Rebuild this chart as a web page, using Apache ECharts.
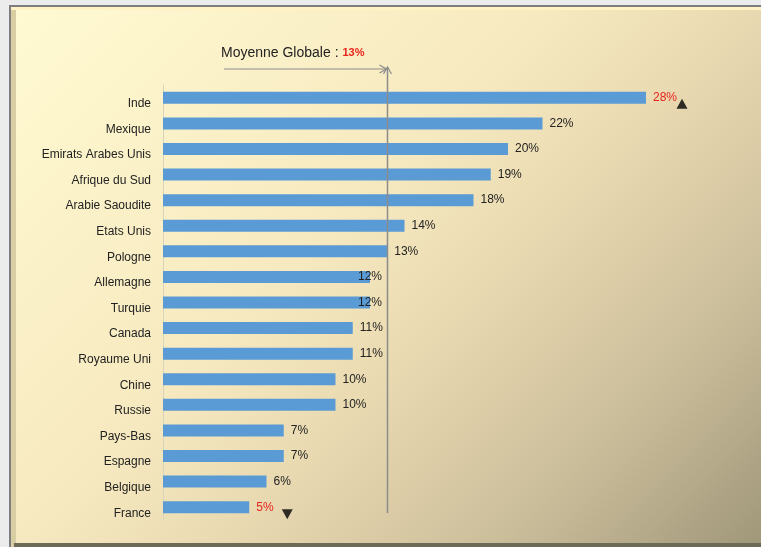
<!DOCTYPE html>
<html><head><meta charset="utf-8">
<script src="https://cdn.jsdelivr.net/npm/echarts@6/dist/echarts.min.js"></script>
<style>html,body{margin:0;padding:0;background:#ececec}#c{width:761px;height:547px}</style>
</head><body><div id="c"></div>
<script>
const categories = ['Inde','Mexique','Emirats Arabes Unis','Afrique du Sud','Arabie Saoudite','Etats Unis','Pologne','Allemagne','Turquie','Canada','Royaume Uni','Chine','Russie','Pays-Bas','Espagne','Belgique','France'];
const values = [28,22,20,19,18,14,13,12,12,11,11,10,10,7,7,6,5];
const meanValue = 13;
const meanText = 'Moyenne Globale : ';
const upMarks = ['Inde'];
const downMarks = ['France'];
const shiftedLabels = ['Allemagne','Turquie'];

const RED = '#e8231c';
const FONT = 'Liberation Sans, Arial, sans-serif';

const barData = categories.map((c, i) => {
  const item = { value: values[i] };
  if (upMarks.includes(c) || downMarks.includes(c)) item.label = { color: RED };
  if (shiftedLabels.includes(c)) item.label = { offset: [-19, 0] };
  return item;
});

const chart = echarts.init(document.getElementById('c'));
chart.setOption({
  animation: false,
  backgroundColor: 'transparent',
  grid: { left: 163, right: 80.5, top: 85, bottom: 27 },
  xAxis: { type: 'value', min: 0, max: 30, show: false },
  yAxis: {
    type: 'category', data: categories, inverse: true,
    axisLine: { show: true, lineStyle: { color: '#d9d2bd', width: 1 } },
    axisTick: { show: false },
    axisLabel: { color: '#222', fontSize: 12, fontFamily: FONT, margin: 12, verticalAlign: 'top', lineHeight: 12 }
  },
  series: [
    {
      type: 'bar', data: barData, barWidth: 12, z: 3,
      itemStyle: { color: '#5b9bd5' },
      label: { show: true, position: 'right', distance: 7, formatter: '{c}%', color: '#222', fontSize: 12, fontFamily: FONT }
    },
    {
      type: 'scatter', z: 4, symbol: 'triangle', symbolSize: [11, 10],
      itemStyle: { color: '#000' },
      data: upMarks.map(c => [values[categories.indexOf(c)], c]),
      symbolOffset: [36, 6]
    },
    {
      type: 'scatter', z: 4, symbol: 'triangle', symbolSize: [11, 10], symbolRotate: 180,
      itemStyle: { color: '#000' },
      data: downMarks.map(c => [values[categories.indexOf(c)], c]),
      symbolOffset: [38, 7]
    }
  ]
});

const mx = Math.round(chart.convertToPixel({ xAxisIndex: 0 }, meanValue)) + 0.5;
const gTop = 85, gBottom = 520;
const lineColor = '#8c8c8c';
chart.setOption({
  graphic: [
    { type: 'rect', z: -10, silent: true, shape: { x: 0, y: 0, width: 761, height: 547 }, style: { fill: '#ececec' } },
    { type: 'rect', z: -9, silent: true, shape: { x: 9, y: 5, width: 760, height: 545 }, style: { fill: '#7e7e7e' } },
    { type: 'rect', z: -8, silent: true, shape: { x: 11, y: 7, width: 760, height: 540 }, style: { fill: '#d9cda3' } },
    { type: 'rect', z: -8, silent: true, shape: { x: 11, y: 7, width: 760, height: 3 }, style: { fill: '#fff3c6' } },
    { type: 'rect', z: -7, silent: true, shape: { x: 16, y: 10, width: 745, height: 533 },
      style: { fill: new echarts.graphic.LinearGradient(16, 10, 655, 649, [
        { offset: 0, color: '#fffad2' },
        { offset: 0.42, color: '#f7e9bf' },
        { offset: 0.57, color: '#e9dab2' },
        { offset: 0.70, color: '#d9caa5' },
        { offset: 0.79, color: '#cbbe9b' },
        { offset: 0.90, color: '#b5aa8a' },
        { offset: 1, color: '#a0987a' }
      ], true) } },
    { type: 'rect', z: -6, silent: true, shape: { x: 14, y: 543, width: 747, height: 4 }, style: { fill: '#6d6a58' } },
    // mean vertical line with arrow
    { type: 'polyline', z: 10, silent: true, shape: { points: [[mx, gTop - 18], [mx, gBottom - 7]] }, style: { stroke: lineColor, lineWidth: 1.5 } },
    { type: 'polyline', z: 10, silent: true, shape: { points: [[mx - 4, gTop - 11], [mx, gTop - 18], [mx + 4, gTop - 11]] }, style: { stroke: lineColor, lineWidth: 1.2, fill: null } },
    // horizontal arrow
    { type: 'polyline', z: 10, silent: true, shape: { points: [[224, gTop - 16], [mx - 1, gTop - 16]] }, style: { stroke: lineColor, lineWidth: 1.2 } },
    { type: 'polyline', z: 10, silent: true, shape: { points: [[mx - 8, gTop - 20], [mx - 1, gTop - 16], [mx - 8, gTop - 12]] }, style: { stroke: lineColor, lineWidth: 1.2, fill: null } },
    { type: 'text', z: 10, silent: true, x: 221, y: 53,
      style: { text: '{a|' + meanText + '}{b|' + meanValue + '%}', verticalAlign: 'middle',
        rich: { a: { fontSize: 14, fontFamily: FONT, fill: '#222' }, b: { fontSize: 11, fontWeight: 'bold', fontFamily: FONT, fill: RED } } } }
  ]
});
</script></body></html>
